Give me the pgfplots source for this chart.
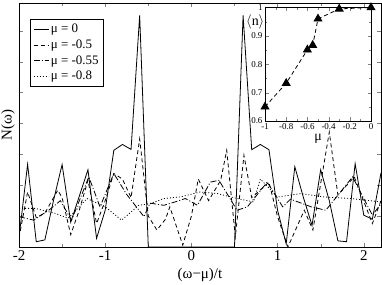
\documentclass[border=0pt]{standalone}
\usepackage{fontspec}
\setmainfont{Liberation Serif}
\usepackage{pgfplots}
\pgfplotsset{compat=1.18}
\begin{document}
\begin{tikzpicture}[x=1bp,y=1bp]
\begin{axis}[
  at={(0bp,0bp)}, anchor=south west,
  width=362bp, height=244bp, scale only axis,
  xmin=-2, xmax=2.2, ymin=0, ymax=7.9,
  xtick={-2,-1,0,1,2}, minor x tick num=1,
  ytick={1,2,3,4,5,6,7}, yticklabels={},
  tick align=inside, tick pos=both,
  major tick length=4bp, minor tick length=2.5bp,
  /pgf/number format/assume math mode=true,
  tick label style={font=\fontsize{15}{15}\selectfont},
  xlabel={(ω−μ)/t}, ylabel={N(ω)},
  label style={font=\fontsize{15}{15}\selectfont},
  xlabel style={at={(axis description cs:0.5,-0.115)}, anchor=center},
  ylabel style={at={(axis description cs:-0.03,0.5)}, anchor=center, rotate=0},
  clip=true,
  legend style={at={(0.03,0.934)}, anchor=north west, draw=black, line width=0.5bp,
    font=\fontsize{13}{13}\selectfont, row sep=1.5bp, inner xsep=3bp, inner ysep=3bp},
  legend cell align=left,
  legend image code/.code={\draw[#1] (0bp,0bp) -- (15bp,0bp);},
  every axis plot/.append style={line width=0.8bp, black},
]
\addplot[solid] coordinates {
(-2.0,0.3) (-1.9,2.68) (-1.8,0.17) (-1.7,0.23) (-1.6,1.5) (-1.5,2.67) (-1.4,0.8) (-1.3,1.65) (-1.2,2.5) (-1.1,0.28) (-1.0,1.19) (-0.9,3.13) (-0.8,3.32) (-0.7,3.16) (-0.6,7.5) (-0.5,0) (-0.4,0) (-0.3,0) (-0.2,0) (-0.1,0) (0,0) (0.1,0) (0.2,0) (0.3,0) (0.4,0) (0.5,0) (0.6,7.5) (0.7,3.15) (0.8,3.32) (0.9,3.15) (1.0,1.19) (1.1,0.1) (1.2,2.6) (1.3,1.6) (1.4,0.7) (1.5,2.5) (1.6,1.5) (1.7,0.2) (1.8,0.17) (1.9,2.7) (2.0,1.03) (2.1,0.9) (2.2,2.4)
};
\addlegendentry{μ = 0}
\addplot[dash pattern=on 4bp off 3bp] coordinates {
(-2.0,0.3) (-1.9,1.78) (-1.8,0.95) (-1.7,1.1) (-1.55,1.84) (-1.5,1.6) (-1.4,0.4) (-1.3,1.2) (-1.2,2.16) (-1.1,0.76) (-1.0,1.5) (-0.9,2.38) (-0.8,2.2) (-0.7,1.6) (-0.6,3.5) (-0.5,1.0) (-0.4,0.55) (-0.3,0.9) (-0.25,1.3) (-0.1,0.06) (0.0,1.0) (0.08,2.2) (0.2,1.5) (0.34,2.16) (0.41,3.13) (0.51,0.33) (0.61,2.97) (0.7,1.6) (0.9,2.1) (1.0,0.98) (1.12,0.0) (1.31,1.19) (1.41,0.55) (1.6,3.72) (1.7,1.68) (1.89,2.27) (2.1,0.76) (2.2,1.5)
};
\addlegendentry{μ = -0.5}
\addplot[dash pattern=on 6bp off 2bp on 1bp off 2bp] coordinates {
(-2.0,0.98) (-1.83,0.87) (-1.65,1.2) (-1.52,1.5) (-1.39,0.87) (-1.19,2.27) (-1.06,1.3) (-0.9,2.38) (-0.75,1.7) (-0.55,0.98) (-0.48,1.42) (-0.32,1.35) (-0.2,1.45) (-0.07,1.57) (0.07,1.35) (0.22,2.1) (0.32,2.16) (0.53,1.19) (0.65,1.3) (0.88,2.1) (1.06,1.3) (1.15,1.55) (1.39,1.3) (1.56,1.19) (1.87,2.27) (2.1,1.03) (2.2,1.4)
};
\addlegendentry{μ = -0.55}
\addplot[dash pattern=on 1bp off 2bp] coordinates {
(-2.0,1.25) (-1.81,1.25) (-1.58,1.09) (-1.43,0.93) (-1.21,1.57) (-1.0,1.3) (-0.81,0.87) (-0.61,1.35) (-0.48,1.4) (-0.32,1.57) (-0.13,1.62) (0.1,1.78) (0.3,1.73) (0.53,1.57) (0.72,1.46) (0.8,2.2) (1.0,1.62) (1.27,1.73) (1.54,1.62) (1.85,1.57) (2.2,1.46)
};
\addlegendentry{μ = -0.8}
\end{axis}
\begin{axis}[
  at={(246bp,126bp)}, anchor=south west,
  width=106bp, height=113.5bp, scale only axis,
  xmin=-1, xmax=0, ymin=0.6, ymax=1,
  xtick={-1,-0.8,-0.6,-0.4,-0.2,0}, ytick={0.6,0.7,0.8,0.9,1},
  minor x tick num=1, minor y tick num=1,
  tick align=inside, tick pos=both,
  major tick length=3.5bp, minor tick length=2bp,
  /pgf/number format/assume math mode=true,
  tick label style={font=\fontsize{9}{9}\selectfont},
  xticklabel style={yshift=1bp},
  yticklabel style={xshift=1bp},
  xlabel={μ}, ylabel={$\langle$n$\rangle$},
  label style={font=\fontsize{14}{14}\selectfont},
  xlabel style={at={(axis description cs:0.5,-0.16)}, anchor=center},
  ylabel style={at={(axis description cs:0,0.87)}, anchor=east, rotate=-90, inner xsep=0.5bp},
  axis background/.style={fill=white},
]
\addplot[black, line width=0.8bp, dash pattern=on 4bp off 3bp, mark=triangle*, mark size=4.5bp, mark options={solid, fill=black}] coordinates {
(-1,0.65) (-0.8,0.733) (-0.6,0.851) (-0.55,0.867) (-0.5,0.96) (-0.3,0.995) (0,1.0)
};
\end{axis}
\pgfresetboundingbox
\path (-19bp,-38bp) rectangle (363bp,247bp);
\end{tikzpicture}
\end{document}
